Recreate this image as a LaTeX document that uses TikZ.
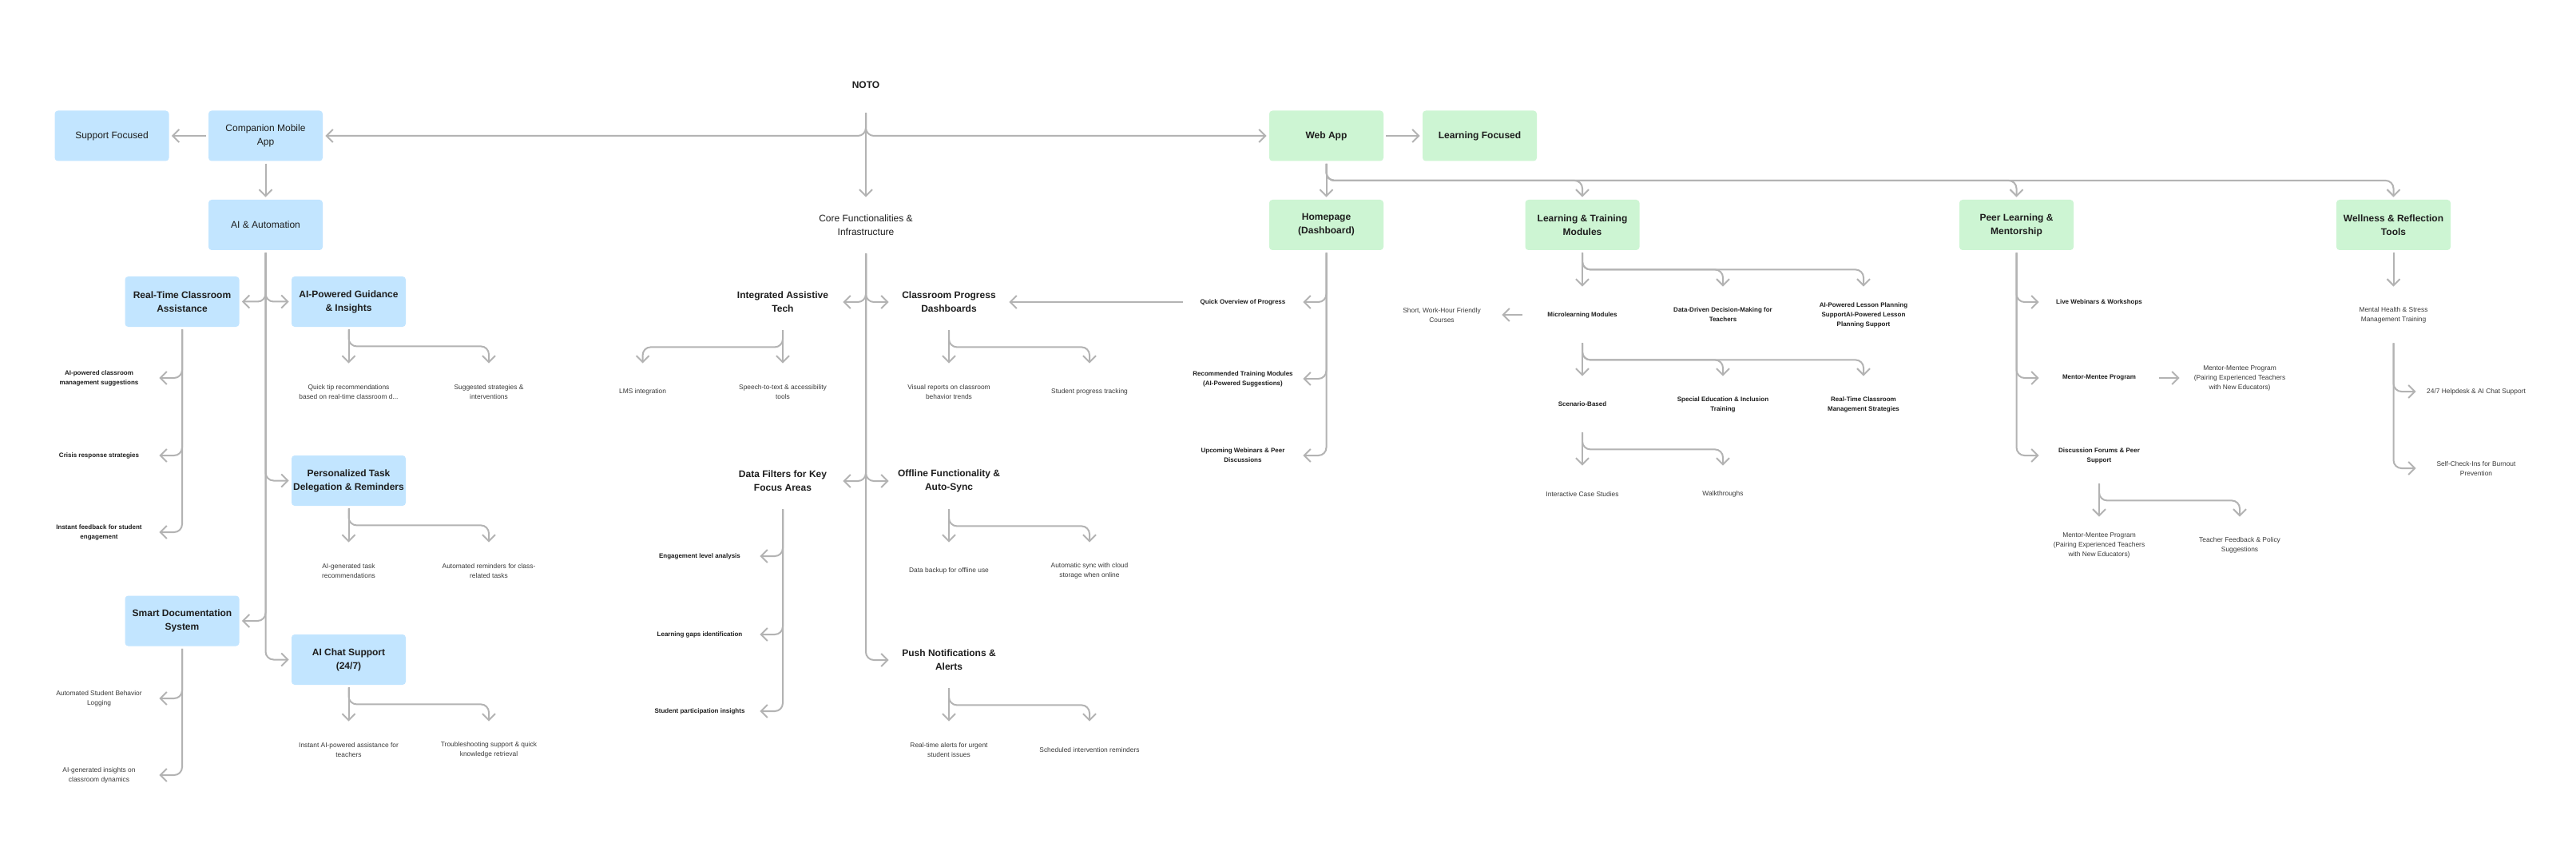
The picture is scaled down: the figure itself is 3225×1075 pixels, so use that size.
\documentclass[tikz,border=0pt]{standalone}
\usepackage{fontspec}
\setmainfont{Liberation Sans}
\usetikzlibrary{arrows.meta}
\definecolor{bluef}{HTML}{C2E5FF}
\definecolor{greenf}{HTML}{CDF5D3}
\definecolor{linec}{HTML}{B3B3B3}
\definecolor{txt}{HTML}{1E1E1E}
\definecolor{txtb}{HTML}{3A3A3A}
\begin{document}
\begin{tikzpicture}[x=0.5pt,y=-0.5pt,
  box/.style={rounded corners=2pt, minimum width=71.5pt, minimum height=31.5pt, inner sep=0pt, align=center, text=txt, font=\fontsize{6}{8.5}\selectfont},
  bluebox/.style={box, fill=bluef},
  bluebold/.style={box, fill=bluef, font=\fontsize{6}{8.5}\selectfont\bfseries},
  greenbox/.style={box, fill=greenf, font=\fontsize{6}{8.5}\selectfont\bfseries},
  leaf/.style={minimum width=72pt, minimum height=32pt, inner sep=0pt, align=center, text=txt},
  leafr/.style={leaf, text=txtb, font=\fontsize{4.2}{6}\selectfont},
  leafb/.style={leaf, font=\fontsize{4}{6}\selectfont\bfseries},
  ttl/.style={leaf, font=\fontsize{6}{8.5}\selectfont\bfseries},
  ttlr/.style={leaf, font=\fontsize{6}{8.5}\selectfont},
  conn/.style={draw=linec, line width=1pt, -{Straight Barb[length=4pt,width=8pt]}, rounded corners=5pt, shorten <=1.5pt, shorten >=1.5pt}
]
\fill[white] (0,0) rectangle (3225,1075);
\useasboundingbox (0,0) rectangle (3225,1075);

% ---------- Left: companion app ----------
\node[bluebox] (supp) at (140,170) {Support Focused};
\node[bluebox] (comp) at (332.5,170) {Companion Mobile\\App};
\node[bluebox] (aia) at (332.5,281.5) {AI \& Automation};
\node[bluebold] (rtca) at (228,377.5) {Real-Time Classroom\\Assistance};
\node[bluebold] (guid) at (436.5,377.5) {AI-Powered Guidance\\\& Insights};
\node[bluebold] (ptd) at (436.5,601.5) {Personalized Task\\Delegation \& Reminders};
\node[bluebold] (sds) at (228,777) {Smart Documentation\\System};
\node[bluebold] (chat) at (436.5,825.5) {AI Chat Support\\(24/7)};

\node[leafb] (l1) at (124,473) {AI-powered classroom\\management suggestions};
\node[leafb] (l2) at (124,570) {Crisis response strategies};
\node[leafb] (l3) at (124,666) {Instant feedback for student\\engagement};
\node[leafr] (l4) at (124,874) {Automated Student Behavior\\Logging};
\node[leafr] (l5) at (124,970) {AI-generated insights on\\classroom dynamics};
\node[leafr] (g1) at (436.5,490) {Quick tip recommendations\\based on real-time classroom d...};
\node[leafr] (g2) at (612,490) {Suggested strategies \&\\interventions};
\node[leafr] (p1) at (436.5,714) {AI-generated task\\recommendations};
\node[leafr] (p2) at (612,714) {Automated reminders for class-\\related tasks};
\node[leafr] (c1) at (436.5,938) {Instant AI-powered assistance for\\teachers};
\node[leafr] (c2) at (612,938) {Troubleshooting support \& quick\\knowledge retrieval};

% ---------- Middle: core ----------
\node[ttl] (noto) at (1084,106) {NOTO};
\node[ttlr] (core) at (1084,282) {Core Functionalities \&\\Infrastructure};
\node[ttl] (iat) at (980,378) {Integrated Assistive\\Tech};
\node[ttl] (cpd) at (1188,378) {Classroom Progress\\Dashboards};
\node[leafr] (i1) at (804.6,490) {LMS integration};
\node[leafr] (i2) at (980,490) {Speech-to-text \& accessibility\\tools};
\node[leafr] (d1) at (1188,490) {Visual reports on classroom\\behavior trends};
\node[leafr] (d2) at (1364,490) {Student progress tracking};
\node[ttl] (dfk) at (980,602) {Data Filters for Key\\Focus Areas};
\node[ttl] (ofs) at (1188,602) {Offline Functionality \&\\Auto-Sync};
\node[leafb] (f1) at (876,696) {Engagement level analysis};
\node[leafb] (f2) at (876,794) {Learning gaps identification};
\node[leafb] (f3) at (876,890) {Student participation insights};
\node[leafr] (o1) at (1188,714) {Data backup for offline use};
\node[leafr] (o2) at (1364,714) {Automatic sync with cloud\\storage when online};
\node[ttl] (pna) at (1188,826) {Push Notifications \&\\Alerts};
\node[leafr] (n1) at (1188,938) {Real-time alerts for urgent\\student issues};
\node[leafr] (n2) at (1364,938) {Scheduled intervention reminders};

% ---------- Right: web app ----------
\node[greenbox] (webapp) at (1660.5,170) {Web App};
\node[greenbox] (learnf) at (1852.5,170) {Learning Focused};
\node[greenbox] (home) at (1660.5,281.5) {Homepage\\(Dashboard)};
\node[greenbox] (ltm) at (1981,281.5) {Learning \& Training\\Modules};
\node[greenbox] (peer) at (2524.5,281.5) {Peer Learning \&\\Mentorship};
\node[greenbox] (well) at (2996.5,281.5) {Wellness \& Reflection\\Tools};

\node[leafb] (h1) at (1556,378) {Quick Overview of Progress};
\node[leafb] (h2) at (1556,474) {Recommended Training Modules\\(AI-Powered Suggestions)};
\node[leafb] (h3) at (1556,570) {Upcoming Webinars \& Peer\\Discussions};

\node[leafb] (m1) at (1981,394) {Microlearning Modules};
\node[leafb] (m2) at (2157,394) {Data-Driven Decision-Making for\\Teachers};
\node[leafb] (m3) at (2333,394) {AI-Powered Lesson Planning\\SupportAI-Powered Lesson\\Planning Support};
\node[leafr] (sc) at (1805,394) {Short, Work-Hour Friendly\\Courses};
\node[leafb] (s1) at (1981,506) {Scenario-Based};
\node[leafb] (s2) at (2157,506) {Special Education \& Inclusion\\Training};
\node[leafb] (s3) at (2333,506) {Real-Time Classroom\\Management Strategies};
\node[leafr] (e1) at (1981,618) {Interactive Case Studies};
\node[leafr] (e2) at (2157,618) {Walkthroughs};

\node[leafb] (r1) at (2628,378) {Live Webinars \& Workshops};
\node[leafb] (r2) at (2628,473) {Mentor-Mentee Program};
\node[leafb] (r3) at (2628,570) {Discussion Forums \& Peer\\Support};
\node[leafr] (r4) at (2804,473) {Mentor-Mentee Program\\(Pairing Experienced Teachers\\with New Educators)};
\node[leafr] (r5) at (2628,682) {Mentor-Mentee Program\\(Pairing Experienced Teachers\\with New Educators)};
\node[leafr] (r6) at (2804,682) {Teacher Feedback \& Policy\\Suggestions};

\node[leafr] (w1) at (2996.5,394) {Mental Health \& Stress\\Management Training};
\node[leafr] (w2) at (3100,490) {24/7 Helpdesk \& AI Chat Support};
\node[leafr] (w3) at (3100,586) {Self-Check-Ins for Burnout\\Prevention};

% ---------- Connectors ----------
\draw[conn] (noto.south) |- (comp.east);
\draw[conn] (noto.south) |- (webapp.west);
\draw[conn] (noto.south) -- (core.north);

\draw[conn] (comp.west) -- (supp.east);
\draw[conn] (comp.south) -- (aia.north);
\draw[conn] (aia.south) |- (rtca.east);
\draw[conn] (aia.south) |- (guid.west);
\draw[conn] (aia.south) |- (ptd.west);
\draw[conn] (aia.south) |- (sds.east);
\draw[conn] (aia.south) |- (chat.west);
\draw[conn] (rtca.south) |- (l1.east);
\draw[conn] (rtca.south) |- (l2.east);
\draw[conn] (rtca.south) |- (l3.east);
\draw[conn] (sds.south) |- (l4.east);
\draw[conn] (sds.south) |- (l5.east);
\draw[conn] (guid.south) -- (g1.north);
\draw[conn] (guid.south) -- ++(0,24) -| (g2.north);
\draw[conn] (ptd.south) -- (p1.north);
\draw[conn] (ptd.south) -- ++(0,24) -| (p2.north);
\draw[conn] (chat.south) -- (c1.north);
\draw[conn] (chat.south) -- ++(0,24) -| (c2.north);

\draw[conn] (core.south) |- (iat.east);
\draw[conn] (core.south) |- (cpd.west);
\draw[conn] (core.south) |- (dfk.east);
\draw[conn] (core.south) |- (ofs.west);
\draw[conn] (core.south) |- (pna.west);
\draw[conn] (iat.south) -- (i2.north);
\draw[conn] (iat.south) -- ++(0,24) -| (i1.north);
\draw[conn] (cpd.south) -- (d1.north);
\draw[conn] (cpd.south) -- ++(0,24) -| (d2.north);
\draw[conn] (dfk.south) |- (f1.east);
\draw[conn] (dfk.south) |- (f2.east);
\draw[conn] (dfk.south) |- (f3.east);
\draw[conn] (ofs.south) -- (o1.north);
\draw[conn] (ofs.south) -- ++(0,24) -| (o2.north);
\draw[conn] (pna.south) -- (n1.north);
\draw[conn] (pna.south) -- ++(0,24) -| (n2.north);

\draw[conn] (webapp.east) -- (learnf.west);
\draw[conn] (webapp.south) -- (home.north);
\draw[conn] (webapp.south) -- ++(0,24) -| (ltm.north);
\draw[conn] (webapp.south) -- ++(0,24) -| (peer.north);
\draw[conn] (webapp.south) -- ++(0,24) -| (well.north);

\draw[conn] (home.south) |- (h1.east);
\draw[conn] (home.south) |- (h2.east);
\draw[conn] (home.south) |- (h3.east);
\draw[conn] (h1.west) -- (cpd.east);

\draw[conn] (ltm.south) -- (m1.north);
\draw[conn] (ltm.south) -- ++(0,24) -| (m2.north);
\draw[conn] (ltm.south) -- ++(0,24) -| (m3.north);
\draw[conn] (m1.west) -- (sc.east);
\draw[conn] (m1.south) -- (s1.north);
\draw[conn] (m1.south) -- ++(0,24) -| (s2.north);
\draw[conn] (m1.south) -- ++(0,24) -| (s3.north);
\draw[conn] (s1.south) -- (e1.north);
\draw[conn] (s1.south) -- ++(0,24) -| (e2.north);

\draw[conn] (peer.south) |- (r1.west);
\draw[conn] (peer.south) |- (r2.west);
\draw[conn] (peer.south) |- (r3.west);
\draw[conn] (r2.east) -- (r4.west);
\draw[conn] (r3.south) -- (r5.north);
\draw[conn] (r3.south) -- ++(0,24) -| (r6.north);

\draw[conn] (well.south) -- (w1.north);
\draw[conn] (w1.south) |- (w2.west);
\draw[conn] (w1.south) |- (w3.west);
\end{tikzpicture}
\end{document}
